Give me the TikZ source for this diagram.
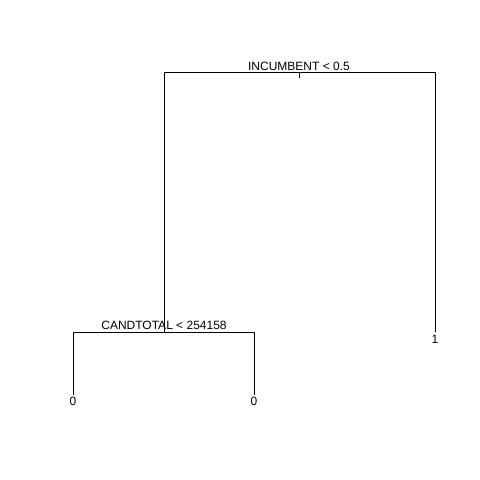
\documentclass[tikz,border=0pt]{standalone}
\usepackage{fontspec}
\setmainfont{Liberation Sans}
\begin{document}
\begin{tikzpicture}[x=1pt,y=-1pt,
  edge/.style={draw=black,line width=0.8pt},
  lbl/.style={inner sep=0pt,anchor=base,font=\fontsize{12}{14}\selectfont}]
\useasboundingbox (0,0) rectangle (480,480);
% node positions
\coordinate (root) at (299,72);
\coordinate (roottick) at (299,78);
\coordinate (rl) at (164,72);
\coordinate (rr) at (435,72);
\coordinate (n2) at (164,332);
\coordinate (n2l) at (73,332);
\coordinate (n2r) at (254,332);
\coordinate (leafA) at (73,395);
\coordinate (leafB) at (254,395);
\coordinate (leafC) at (435,332);
% tree
\draw[edge] (roottick) -- (root);
\draw[edge] (rl) -- (rr);
\draw[edge] (rl) -- (n2);
\draw[edge] (rr) -- (leafC);
\draw[edge] (n2l) -- (n2r);
\draw[edge] (n2l) -- (leafA);
\draw[edge] (n2r) -- (leafB);
% labels
\node[lbl] (t1) at (299,70) {INCUMBENT < 0.5};
\node[lbl] (t2) at (164,329.5) {CANDTOTAL < 254158};
\node[lbl] (t3) at (73,405) {0};
\node[lbl] (t4) at (254,405) {0};
\node[lbl] (t5) at (435,343) {1};
\end{tikzpicture}
\end{document}
